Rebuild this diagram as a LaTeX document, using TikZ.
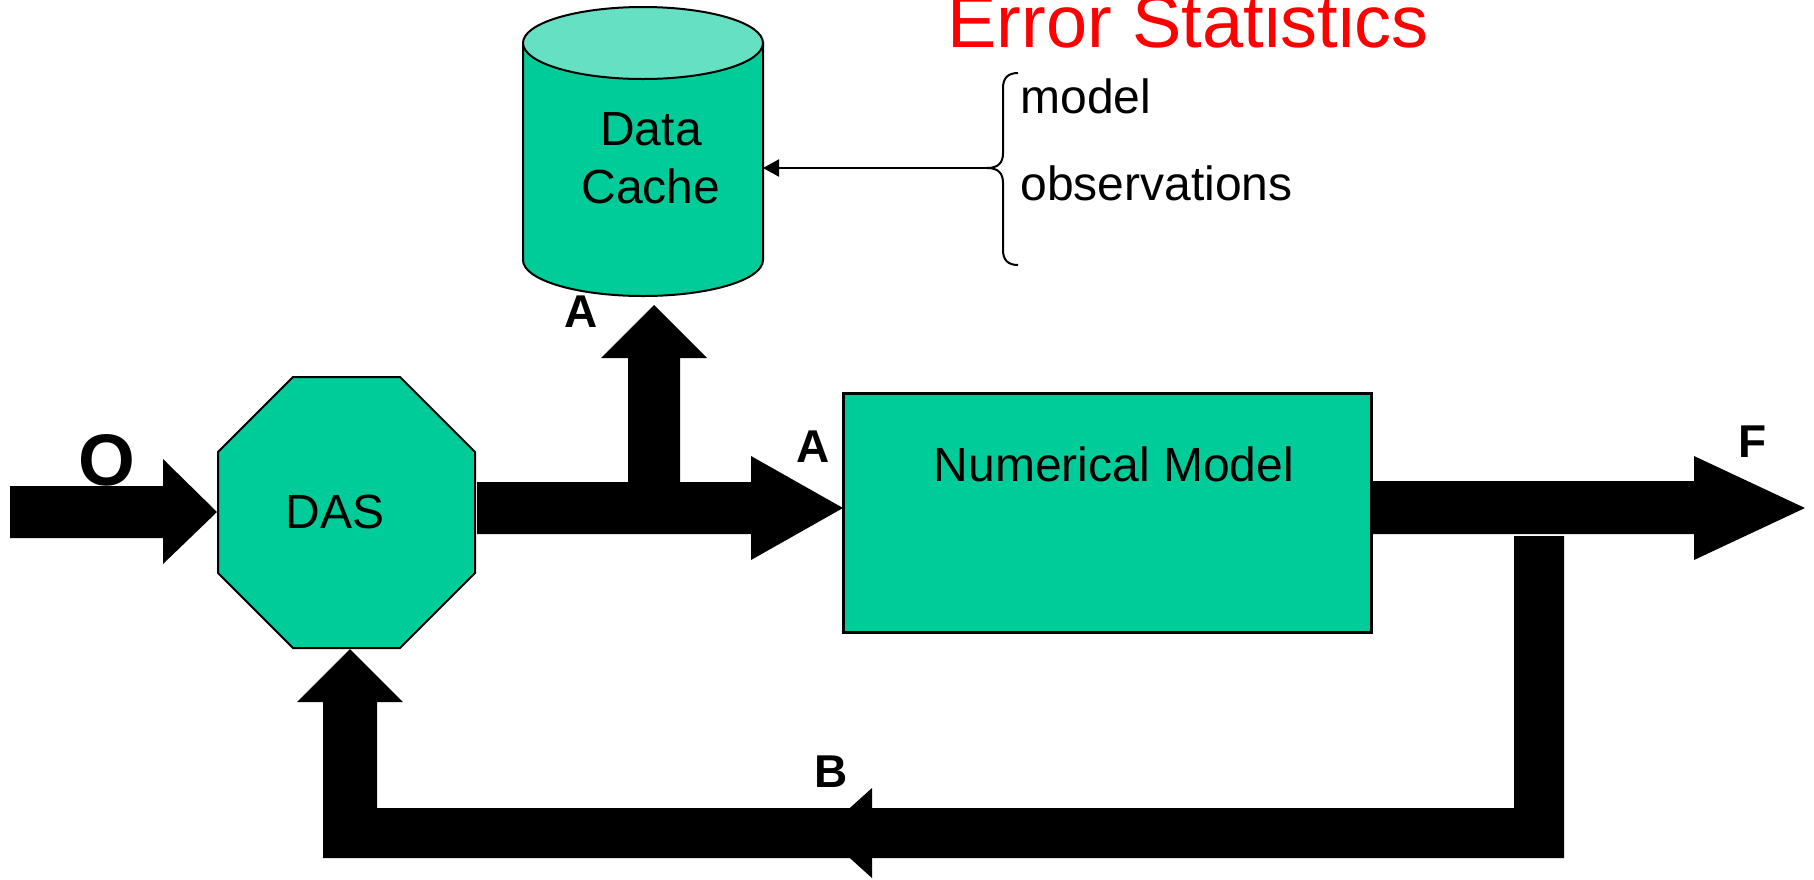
\documentclass[tikz,border=0pt]{standalone}
\usepackage{fontspec}
\setmainfont{Liberation Sans}
\usetikzlibrary{arrows.meta}
\definecolor{boxgreen}{RGB}{0,204,153}
\definecolor{toplight}{RGB}{102,224,194}
\definecolor{errred}{RGB}{255,0,0}
\begin{document}
\begin{tikzpicture}[x=0.5pt,y=-0.5pt,
  blockarrow/.style={fill=black},
  shapeline/.style={draw=black,line width=1pt,fill=boxgreen},
  lbl/.style={inner sep=0pt,anchor=base,font=\fontsize{24}{29}\selectfont},
  tag/.style={inner sep=0pt,anchor=base,font=\bfseries\fontsize{23}{28}\selectfont},
  thinline/.style={draw=black,line width=1pt},
]
\useasboundingbox (0,0) rectangle (1814,879);

% ---- Data cache cylinder
\path[shapeline] (523,43) -- (523,260) arc[start angle=180, end angle=0, x radius=120, y radius=36] -- (763,43) -- cycle;
\path[shapeline,fill=toplight] (643,43) ellipse [x radius=120, y radius=36];
\coordinate (cacheeast) at (763,168);
\node[lbl] (cache1) at (651,145) {Data};
\node[lbl] (cache2) at (651,203) {Cache};

% ---- DAS octagon
\path[shapeline] (293,377) -- (400,377) -- (475,452) -- (475,573) -- (400,648) -- (293,648) -- (218,573) -- (218,452) -- cycle;
\node[lbl] (das) at (335,528) {DAS};

% ---- Numerical model
\path[shapeline,line width=1.5pt] (843,393) rectangle (1371,632);
\node[lbl] (model) at (1114,481) {Numerical Model};

% ---- Error statistics
\node[inner sep=0pt,anchor=base,text=errred,font=\fontsize{37}{44}\selectfont] (err) at (1188,47) {Error Statistics};
\node[lbl,anchor=base west] (mdl) at (1020,113) {model};
\node[lbl,anchor=base west] (obs) at (1020,200) {observations};
\coordinate (bracetip) at (987,168);
\draw[thinline] (1018,73) .. controls (1008,73) and (1003,78) .. (1003,88) -- (1003,153)
  .. controls (1003,163) and (998,168) .. (bracetip)
  .. controls (998,168) and (1003,173) .. (1003,183) -- (1003,250)
  .. controls (1003,260) and (1008,265) .. (1018,265);
\draw[thinline,-{Triangle[length=8pt,width=8.5pt]}] (bracetip) -- (cacheeast);

% ---- block arrows
% observations in
\fill[blockarrow] (10,486) -- (163,486) -- (163,459) -- (217,512) -- (163,564) -- (163,538) -- (10,538) -- cycle;
% DAS -> model, branch to cache
\fill[blockarrow] (477,482) -- (628,482) -- (628,358) -- (601,358) -- (654,305) -- (707,358) -- (680,358)
  -- (680,482) -- (751,482) -- (751,456) -- (843,508) -- (751,560) -- (751,534) -- (477,534) -- cycle;
% forecast out
\fill[blockarrow] (1371,481) -- (1694,481) -- (1694,456) -- (1805,508) -- (1694,560) -- (1694,534) -- (1371,534) -- cycle;
% feedback
\fill[blockarrow] (1514,536) -- (1564,536) -- (1564,858) -- (323,858) -- (323,702) -- (297,702) -- (350,649)
  -- (403,702) -- (377,702) -- (377,808) -- (1514,808) -- cycle;
\fill[blockarrow] (872,788) -- (872,878) -- (822,833) -- cycle;

% ---- labels
\node[inner sep=0pt,anchor=base,font=\bfseries\fontsize{36.5}{44}\selectfont] (lo) at (107,485) {O};
\node[tag] (la1) at (581,327) {A};
\node[tag] (la2) at (813,462) {A};
\node[tag] (lf) at (1753,457) {F};
\node[tag] (lb) at (831,787) {B};
\end{tikzpicture}
\end{document}
